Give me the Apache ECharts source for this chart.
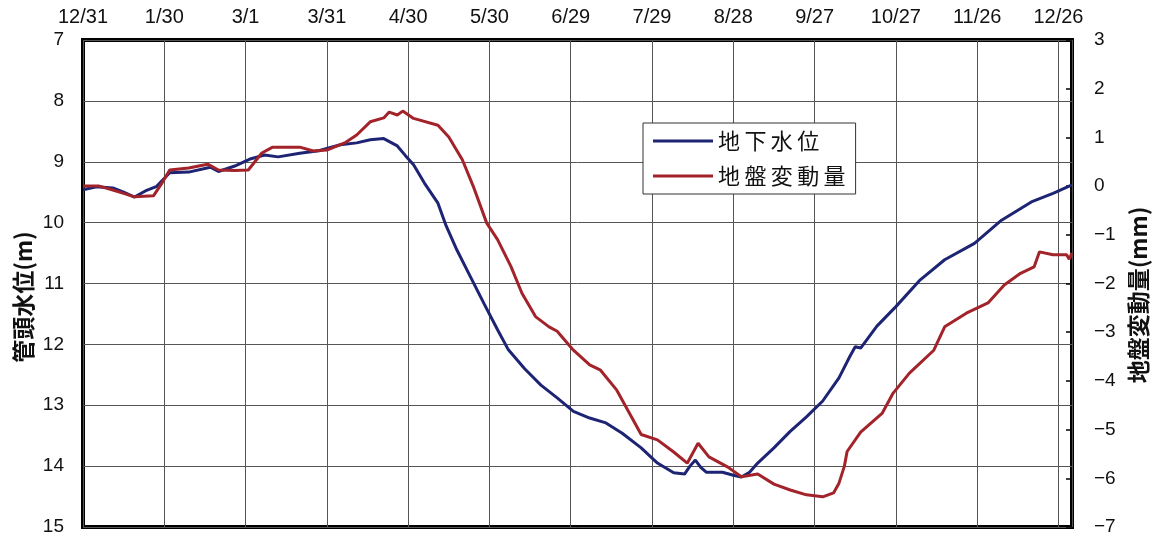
<!DOCTYPE html>
<html>
<head>
<meta charset="utf-8">
<script src="https://cdn.jsdelivr.net/npm/echarts@6/dist/echarts.min.js"></script>
<style>
  html, body { margin: 0; padding: 0; background: #fff; }
  #main { width: 1161px; height: 540px; }
</style>
</head>
<body>
<div id="main"></div>
<script>
// 上の日付目盛（12/31 から30日ごと）
var tickLabels = ['12/31','1/30','3/1','3/31','4/30','5/30','6/29','7/29','8/28','9/27','10/27','11/26','12/26'];

// 地下水位 (m) : 経過日数と値
var gwDays = [0,5,11,15,19,23,27,32,39,47,50,56,62,67,72,80,87,95,101,106,111,116,119,122,126,131,134,138,143,148,153,157,163,169,175,181,187,193,199,206,212,218,222,224,226,228,230,236,240,243,246,249,255,261,267,273,279,283,285,287,293,300,309,318,329,339,350,358,365];
var gwLevel = [9.46,9.41,9.43,9.5,9.58,9.48,9.41,9.18,9.17,9.09,9.16,9.07,8.95,8.89,8.92,8.86,8.82,8.72,8.69,8.64,8.62,8.74,8.9,9.05,9.35,9.68,10.05,10.45,10.89,11.33,11.76,12.09,12.4,12.67,12.88,13.1,13.21,13.29,13.46,13.7,13.95,14.11,14.13,14.0,13.9,14.02,14.1,14.1,14.15,14.18,14.1,13.95,13.7,13.43,13.19,12.93,12.55,12.2,12.04,12.06,11.7,11.38,10.94,10.61,10.34,9.96,9.66,9.52,9.38];

// 地盤変動量 (mm)
var subDays = [0,6,11,15,19,26,29,32,39,46,50,56,61,66,70,80,85,90,97,101,106,111,113,116,118,122,131,135,140,144,149,153,158,162,167,172,175,181,187,191,197,206,212,218,223,227,231,238,243,249,255,261,267,273,277,279,281,282,287,295,299,305,314,318,326,334,340,346,351,353,358,363,364,365];
var subValue = [0.0,0.0,-0.08,-0.15,-0.22,-0.2,0.05,0.33,0.37,0.45,0.33,0.32,0.33,0.68,0.8,0.8,0.72,0.74,0.9,1.05,1.32,1.4,1.52,1.46,1.54,1.39,1.25,1.01,0.54,0.0,-0.76,-1.1,-1.66,-2.2,-2.68,-2.89,-2.98,-3.37,-3.67,-3.78,-4.19,-5.1,-5.21,-5.46,-5.69,-5.28,-5.56,-5.77,-5.97,-5.91,-6.12,-6.24,-6.34,-6.38,-6.3,-6.1,-5.75,-5.45,-5.05,-4.66,-4.25,-3.84,-3.37,-2.89,-2.61,-2.4,-2.03,-1.79,-1.66,-1.35,-1.41,-1.41,-1.5,-1.37];

var font = "'Liberation Sans', 'Noto Sans CJK JP', sans-serif";
var jpFont = "'Noto Sans CJK JP', sans-serif";

function pairs(xs, ys) {
    var out = [];
    for (var i = 0; i < xs.length; i++) {
        out.push([xs[i], ys[i]]);
    }
    return out;
}

var myChart = echarts.init(document.getElementById('main'));

var option = {
    backgroundColor: '#fff',
    animation: false,
    grid: {
        left: 83, right: 89, top: 40, bottom: 13,
        show: true,
        borderColor: '#000',
        borderWidth: 4
    },
    legend: {
        orient: 'vertical',
        left: 643, top: 123,
        backgroundColor: '#fff',
        borderColor: '#333',
        borderWidth: 1,
        padding: [7, 10, 7, 10],
        itemGap: 13,
        itemWidth: 60,
        itemHeight: 3,
        icon: 'rect',
        textStyle: { fontFamily: jpFont, fontSize: 22, color: '#111' },
        // 文字間を少し空ける
        formatter: function (name) { return name.split('').join('\u2009'); },
        data: ['地下水位', '地盤変動量']
    },
    xAxis: {
        type: 'value',
        position: 'top',
        min: 0, max: 365, interval: 30,
        axisLine: { show: false },
        axisTick: { show: false },
        splitLine: { show: true, lineStyle: { color: '#555', width: 1 } },
        axisLabel: {
            fontFamily: font, fontSize: 20, color: '#111', margin: 13,
            formatter: function (v) { return tickLabels[Math.round(v / 30)] || ''; }
        }
    },
    yAxis: [
        {
            type: 'value',
            inverse: true,
            min: 7, max: 15, interval: 1,
            axisLine: { show: false },
            axisTick: { show: false },
            splitLine: { show: true, lineStyle: { color: '#555', width: 1 } },
            axisLabel: { fontFamily: font, fontSize: 19, color: '#111', margin: 19 }
        },
        {
            type: 'value',
            position: 'right',
            min: -7, max: 3, interval: 1,
            axisLine: { show: false },
            axisTick: { show: true, inside: true, length: 6, lineStyle: { color: '#000', width: 1.5 } },
            splitLine: { show: false },
            axisLabel: {
                fontFamily: font, fontSize: 19, color: '#111', margin: 22,
                formatter: function (v) { return v < 0 ? '\u2212' + (-v) : String(v); }
            }
        }
    ],
    graphic: [
        {
            type: 'text', x: 23, y: 297, rotation: Math.PI / 2,
            style: { text: '管頭水位(m)', font: "bold 23px 'Noto Sans CJK JP'", fill: '#111', align: 'center', verticalAlign: 'middle' }
        },
        {
            type: 'text', x: 1138, y: 295, rotation: Math.PI / 2,
            style: { text: '地盤変動量(mm)', font: "bold 23px 'Noto Sans CJK JP'", fill: '#111', align: 'center', verticalAlign: 'middle' }
        }
    ],
    series: [
        {
            name: '地下水位',
            type: 'line',
            yAxisIndex: 0,
            symbol: 'none',
            lineStyle: { color: '#1c2473', width: 3 },
            itemStyle: { color: '#1c2473' },
            data: pairs(gwDays, gwLevel)
        },
        {
            name: '地盤変動量',
            type: 'line',
            yAxisIndex: 1,
            symbol: 'none',
            lineStyle: { color: '#a3232b', width: 3 },
            itemStyle: { color: '#a3232b' },
            data: pairs(subDays, subValue)
        }
    ]
};

myChart.setOption(option);
</script>
</body>
</html>
